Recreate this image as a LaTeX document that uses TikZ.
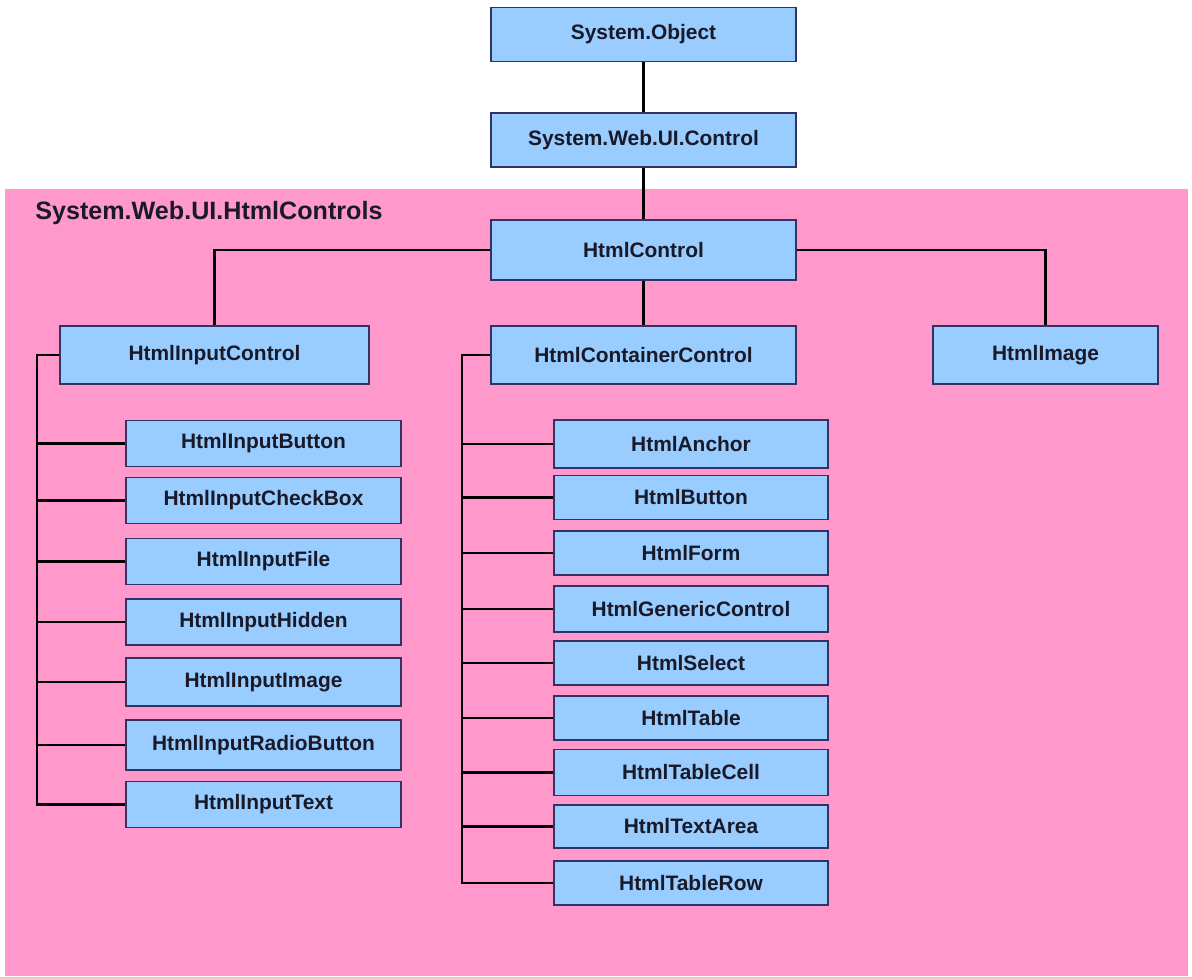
\documentclass[tikz,border=0pt]{standalone}
\usepackage{fontspec}
\setmainfont{Liberation Sans}
\usepackage{tikz}
\usetikzlibrary{positioning, calc}
\usepackage{xcolor}
\definecolor{BoxBlue}{RGB}{153, 204, 255}
\definecolor{BoxLine}{RGB}{50, 50, 100}
\definecolor{NsPink}{RGB}{255, 153, 204}
\definecolor{LabelInk}{RGB}{25, 25, 40}

\tikzset{
  classbox/.style={draw=BoxLine, line width=0.9pt, fill=BoxBlue, inner sep=0pt,
    minimum width=6.1cm, minimum height=1.08cm, text=LabelInk,
    font=\fontsize{11.9}{14}\selectfont\bfseries},
  childbox/.style={classbox, minimum width=5.5cm, minimum height=0.92cm},
  link/.style={line width=1.4pt, black}
}

\begin{document}
\begin{tikzpicture}[x=0.02cm, y=-0.02cm]
    \useasboundingbox (0,0) rectangle (1192,976);
    % namespace area
    \fill[NsPink] (5,189) rectangle (1188,976);
    \node[anchor=base west, inner sep=0pt, text=LabelInk, font=\fontsize{14.3}{17}\selectfont\bfseries] (ns) at (35,220) {System.Web.UI.HtmlControls};

    \node[classbox] (obj) at (643.5,34.5) {System.Object};
    \node[classbox] (ctl) at (643.5,140) {System.Web.UI.Control};
    \node[classbox, minimum height=1.2cm] (hc) at (643.5,250) {HtmlControl};

    \node[classbox, minimum width=6.18cm, minimum height=1.16cm] (hic) at (214.5,355) {HtmlInputControl};
    \node[classbox, minimum height=1.16cm] (hcc) at (643.5,355) {HtmlContainerControl};
    \node[classbox, minimum width=4.5cm, minimum height=1.16cm] (himg) at (1045.5,355) {HtmlImage};

    % input controls
    \node[childbox] (hibtn) at (263.5,443.5) {HtmlInputButton};
    \node[childbox] (hichk) at (263.5,500.5) {HtmlInputCheckBox};
    \node[childbox] (hifile) at (263.5,561.5) {HtmlInputFile};
    \node[childbox] (hihid) at (263.5,622) {HtmlInputHidden};
    \node[childbox, minimum height=0.96cm] (hiimg) at (263.5,682) {HtmlInputImage};
    \node[childbox, minimum height=1cm] (hiradio) at (263.5,745) {HtmlInputRadioButton};
    \node[childbox] (hitext) at (263.5,804.5) {HtmlInputText};

    % container controls
    \node[childbox, minimum width=5.48cm, minimum height=0.96cm] (hanchor) at (691,444) {HtmlAnchor};
    \node[childbox, minimum width=5.48cm, minimum height=0.88cm] (hbtn) at (691,497.5) {HtmlButton};
    \node[childbox, minimum width=5.48cm, minimum height=0.88cm] (hform) at (691,553) {HtmlForm};
    \node[childbox, minimum width=5.48cm] (hgen) at (691,609) {HtmlGenericControl};
    \node[childbox, minimum width=5.48cm, minimum height=0.88cm] (hsel) at (691,663) {HtmlSelect};
    \node[childbox, minimum width=5.48cm, minimum height=0.88cm] (htab) at (691,718) {HtmlTable};
    \node[childbox, minimum width=5.48cm] (hcell) at (691,772.5) {HtmlTableCell};
    \node[childbox, minimum width=5.48cm, minimum height=0.86cm] (harea) at (691,826.5) {HtmlTextArea};
    \node[childbox, minimum width=5.48cm, minimum height=0.88cm] (hrow) at (691,883) {HtmlTableRow};

    \coordinate (trunkL) at (37,0);
    \coordinate (trunkM) at (462,0);

    \draw[link] (obj) -- (ctl);
    \draw[link] (ctl) -- (hc);
    \draw[link] (hc) -- (hcc);
    \draw[link] (hc.west) -| (hic.north);
    \draw[link] (hc.east) -| (himg.north);

    \draw[link] (hic.west) -- (hic.west -| trunkL) |- (hitext.west);
    \foreach \n in {hibtn, hichk, hifile, hihid, hiimg, hiradio}
      \draw[link] (\n.west) -- (\n.west -| trunkL);

    \draw[link] (hcc.west) -- (hcc.west -| trunkM) |- (hrow.west);
    \foreach \n in {hanchor, hbtn, hform, hgen, hsel, htab, hcell, harea}
      \draw[link] (\n.west) -- (\n.west -| trunkM);
\end{tikzpicture}
\end{document}
